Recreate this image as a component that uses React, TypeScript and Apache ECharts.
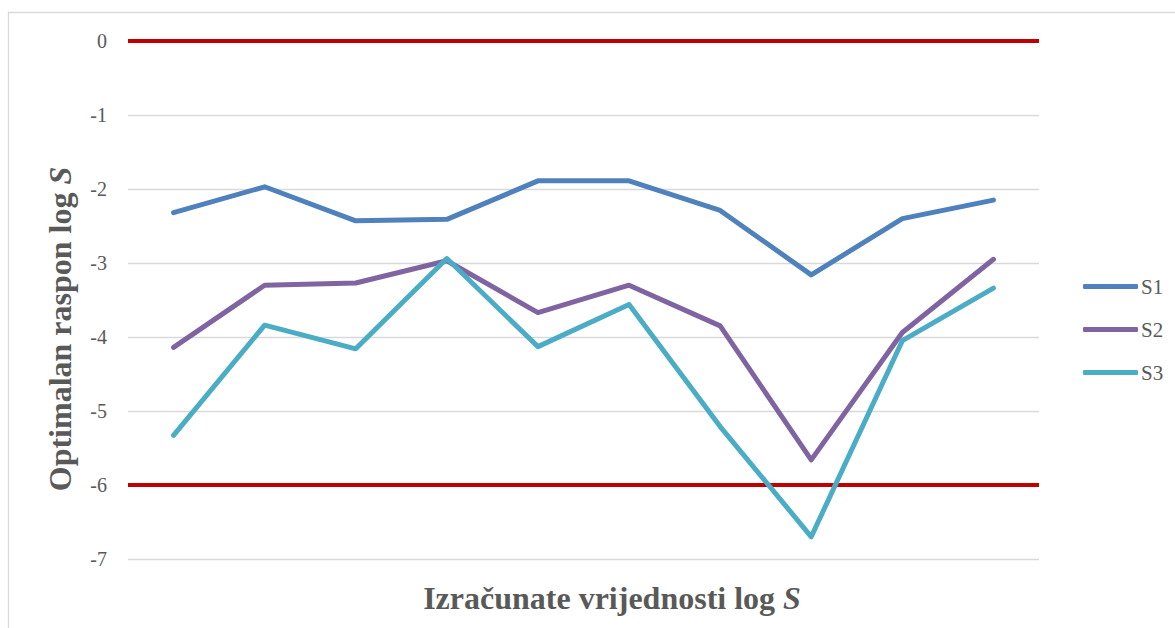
import React, { useEffect, useRef } from "react";
import * as echarts from "echarts";

const categories = ["1", "2", "3", "4", "5", "6", "7", "8", "9", "10"];
const s1 = [-2.32, -1.97, -2.43, -2.41, -1.89, -1.89, -2.29, -3.16, -2.4, -2.15];
const s2 = [-4.14, -3.3, -3.27, -2.97, -3.67, -3.3, -3.85, -5.66, -3.94, -2.95];
const s3 = [-5.33, -3.84, -4.16, -2.94, -4.13, -3.56, -5.21, -6.7, -4.05, -3.34];
const limitUpper = 0;
const limitLower = -6;
const yMin = -7;
const yMax = 0;
const yInterval = 1;

const FONT = "Liberation Serif";
const GREY = "#595959";

export default function App() {
  const ref = useRef<HTMLDivElement>(null);
  useEffect(() => {
    if (!ref.current) return;
    const chart = echarts.init(ref.current, null, { renderer: "svg" });
    const lineSeries = (name: string, data: number[], color: string) => ({
      name,
      type: "line",
      data,
      symbol: "none",
      lineStyle: { color, width: 5, cap: "round", join: "round" },
      itemStyle: { color },
      z: 3,
    });
    chart.setOption({
      animation: false,
      backgroundColor: "#ffffff",
      textStyle: { fontFamily: FONT },
      grid: { left: 128, right: 136, top: 41, bottom: 69 },
      xAxis: {
        type: "category",
        data: categories,
        boundaryGap: true,
        axisLine: { show: false },
        axisTick: { show: false },
        axisLabel: { show: false },
        splitLine: { show: false },
      },
      yAxis: {
        type: "value",
        min: yMin,
        max: yMax,
        interval: yInterval,
        axisLine: { show: false },
        axisTick: { show: false },
        axisLabel: {
          color: GREY,
          fontFamily: FONT,
          fontSize: 20,
          margin: 21,
        },
        splitLine: { lineStyle: { color: "#d9d9d9", width: 1.3 } },
      },
      legend: {
        orient: "vertical",
        left: 1078,
        top: 271,
        itemWidth: 55,
        itemHeight: 5,
        itemGap: 22,
        icon: "roundRect",
        textStyle: { color: GREY, fontFamily: FONT, fontSize: 21, padding: [0, 0, 0, -2] },
        data: ["S1", "S2", "S3"],
      },
      graphic: [
        {
          type: "rect",
          shape: { x: 8.5, y: 12.5, width: 1200, height: 700 },
          style: { fill: "none", stroke: "#d9d9d9", lineWidth: 1.3 },
          silent: true,
          z: -10,
        },
        {
          type: "text",
          x: 60,
          y: 329,
          rotation: Math.PI / 2,
          style: {
            text: "Optimalan raspon log {i|S}",
            fill: GREY,
            fontFamily: FONT,
            fontWeight: "bold",
            fontSize: 32,
            align: "center",
            verticalAlign: "middle",
            rich: {
              i: { fontStyle: "italic", fontWeight: "bold", fontSize: 32, fontFamily: FONT, fill: GREY },
            },
          },
        },
        {
          type: "text",
          x: 612,
          y: 598,
          style: {
            text: "Izračunate vrijednosti log {i|S}",
            fill: GREY,
            fontFamily: FONT,
            fontWeight: "bold",
            fontSize: 32,
            align: "center",
            verticalAlign: "middle",
            rich: {
              i: { fontStyle: "italic", fontWeight: "bold", fontSize: 32, fontFamily: FONT, fill: GREY },
            },
          },
        },
      ],
      series: [
        {
          ...lineSeries("S1", s1, "#4f81bd"),
          markLine: {
            silent: true,
            symbol: "none",
            label: { show: false },
            lineStyle: { color: "#c00000", width: 4, type: "solid" },
            data: [{ yAxis: limitUpper }, { yAxis: limitLower }],
            z: 2,
          },
        },
        lineSeries("S2", s2, "#8064a2"),
        lineSeries("S3", s3, "#4bacc6"),
      ],
    });
    return () => chart.dispose();
  }, []);
  return (
    <div
      ref={ref}
      style={{ position: "absolute", left: 0, top: 0, width: 1175, height: 628 }}
    />
  );
}
